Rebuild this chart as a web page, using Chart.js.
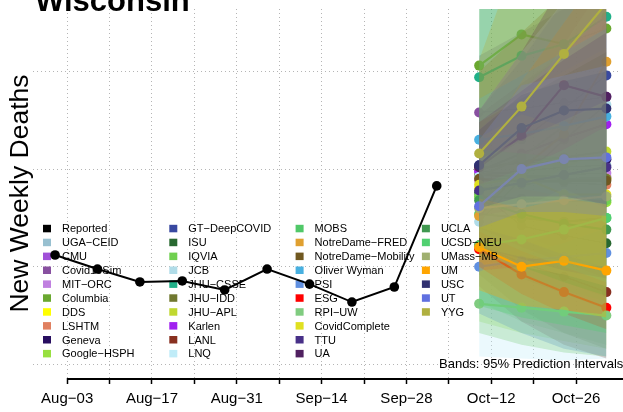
<!DOCTYPE html>
<html><head><meta charset="utf-8">
<script src="https://cdn.jsdelivr.net/npm/chart.js@4/dist/chart.umd.min.js"></script>
<style>html,body{margin:0;padding:0;background:#fff;overflow:hidden}canvas{display:block}</style>
</head><body>
<canvas id="c" width="623" height="412"></canvas>
<script>
// ---------------- data ----------------
const titleText = 'Wisconsin';
const yTitle = 'New Weekly Deaths';
const bandNote = 'Bands: 95% Prediction Intervals';

const reportedDates = ['2020-08-01','2020-08-08','2020-08-15','2020-08-22','2020-08-29','2020-09-05','2020-09-12','2020-09-19','2020-09-26','2020-10-03'];
const reportedDeaths = [56, 48.8, 42.2, 42.7, 38.1, 48.8, 41.1, 31.9, 39.6, 91.4];

const forecastDates = ['2020-10-10','2020-10-17','2020-10-24','2020-10-31'];

const tickDates = ['2020-08-03','2020-08-10','2020-08-17','2020-08-24','2020-08-31','2020-09-07','2020-09-14','2020-09-21','2020-09-28','2020-10-05','2020-10-12','2020-10-19','2020-10-26'];
const tickLabels = ['Aug-03','','Aug-17','','Aug-31','','Sep-14','','Sep-28','','Oct-12','','Oct-26'];
const yGridValues = [0, 50, 100, 150];

const modelNames = ['UGA-CEID','CMU','Covid19Sim','MIT-ORC','Columbia','DDS','LSHTM','Geneva','Google-HSPH',
  'GT-DeepCOVID','ISU','IQVIA','JCB','JHU-CSSE','JHU-IDD','JHU-APL','Karlen','LANL','LNQ',
  'MOBS','NotreDame-FRED','NotreDame-Mobility','Oliver Wyman','PSI','ESG','RPI-UW','CovidComplete','TTU','UA',
  'UCLA','UCSD-NEU','UMass-MB','UM','USC','UT','YYG'];
const modelColors = ['#98C0D0','#A050D8','#8850A0','#C080E0','#6AA830','#FFFF00','#E08060','#280E60','#98E040',
  '#3848A0','#286830','#70D050','#B0DCE8','#20B088','#707830','#C0D830','#A020F0','#883020','#C0ECF8',
  '#50C868','#E0A030','#705820','#48B0E0','#6090E0','#FF0000','#80CC80','#E0E020','#483088','#502060',
  '#409850','#50D070','#A0B070','#FFA500','#303070','#6070E0','#B0B040'];

const modelMedians = [
  [97,99,101,102],[99,97,95,96],[129,131,134,137],[94,96,97,98],[153,169,164,172],[90,92,94,95],[95,94,93,92],[101,103,104,105],[86,85,84,83],
  [102,115,131,148],[88,71,66,62],[86,85,84,84],[73,95,115,133],[147,158,164,178],[97,96,95,95],[100,104,106,109],[99,108,116,123],[61,52,45,37],[96,106,122,127],
  [77,75,73,75],[76,100,118,155],[95,94,94,94],[115,118,122,127],[50,53,55,57],[59,46,37,29],[31,29,27,25],[92,96,87,87],[89,93,97,101],[101,117,143,137],
  [84,77,72,69],[61,64,69,75],[80,82,84,86],[60,50,53,48],[102,121,130,131],[81,100,105,106],[108,132,159,185]
];
const modelLower = [
  [72,62,54,46],[76,64,54,46],[102,96,90,84],[80,74,68,62],[112,104,96,88],[62,52,42,34],[66,56,46,38],[76,66,58,50],[22,16,12,8],
  [76,78,82,86],[62,44,36,28],[32,22,16,10],[50,60,70,80],[116,110,104,100],[46,28,16,8],[78,72,66,60],[80,80,78,76],[40,22,10,3],[4,3,2,3],
  [56,46,38,32],[50,56,62,70],[70,60,52,44],[96,90,86,84],[26,16,8,4],[50,36,26,18],[16,10,6,4],[70,64,56,50],[60,54,48,44],[76,80,90,80],
  [60,50,42,35],[30,24,20,16],[55,50,46,40],[38,30,28,24],[80,86,86,82],[70,78,78,76],[60,55,52,50]
];
const modelUpper = [
  [126,142,158,172],[124,134,144,154],[158,170,182,194],[110,118,126,134],[198,225,250,275],[122,138,154,170],[128,144,160,176],[128,144,158,172],[112,120,128,136],
  [130,156,186,216],[116,102,98,96],[108,114,120,126],[100,130,164,196],[184,205,226,250],[150,170,190,210],[124,138,150,162],[120,140,160,180],[80,78,76,72],[130,160,186,210],
  [104,114,124,134],[110,145,175,205],[124,136,148,160],[136,148,160,172],[80,90,100,110],[68,58,50,42],[48,50,52,55],[116,128,122,126],[124,140,156,170],[130,160,196,200],
  [110,108,106,104],[92,100,110,122],[105,115,125,135],[85,80,85,82],[120,138,145,150],[115,143,148,153],[156,215,275,340]
];

// ---------------- helpers ----------------
const DAY0 = Date.UTC(2020, 7, 1);
const toDay = s => (Date.parse(s + 'T00:00:00Z') - DAY0) / 86400000;
const rgba = (hex, a) => { const n = parseInt(hex.slice(1), 16); return `rgba(${(n >> 16) & 255},${(n >> 8) & 255},${n & 255},${a})`; };
const minus = s => s.replace(/-/g, '\u2212');
const FONT = '"Liberation Sans", Arial, Helvetica, sans-serif';
const BAND_ALPHA = 0.32;

const fcX = forecastDates.map(toDay);
const datasets = [];
modelNames.forEach((name, i) => {
  const c = modelColors[i];
  datasets.push({ label: name + ' lower', data: fcX.map((x, k) => ({ x, y: modelLower[i][k] })),
    borderWidth: 0, pointRadius: 0, fill: false, order: 1000 - 3 * i });
  datasets.push({ label: name + ' band', data: fcX.map((x, k) => ({ x, y: modelUpper[i][k] })),
    borderWidth: 0, pointRadius: 0, fill: '-1', backgroundColor: rgba(c, BAND_ALPHA), order: 999 - 3 * i });
  datasets.push({ label: name, data: fcX.map((x, k) => ({ x, y: modelMedians[i][k] })),
    borderColor: c, backgroundColor: c, borderWidth: 2.2, pointRadius: 5, pointBorderWidth: 0,
    pointBackgroundColor: c, fill: false, clip: 0, order: 998 - 3 * i });
});
const reportedIndex = datasets.length;
datasets.push({ label: 'Reported', data: reportedDates.map((d, k) => ({ x: toDay(d), y: reportedDeaths[k] })),
  borderColor: '#000', backgroundColor: '#000', borderWidth: 2, pointRadius: 4.8, pointBorderWidth: 0,
  pointBackgroundColor: '#000', fill: false, order: 0 });

const legendNames = ['Reported'].concat(modelNames);
const legendColors = ['#000000'].concat(modelColors);

const decor = {
  id: 'decor',
  beforeDatasetDraw(chart, args) {
    if (args.index !== reportedIndex) return;
    const ctx = chart.ctx;
    ctx.save();
    ctx.font = '11px ' + FONT;
    ctx.textBaseline = 'alphabetic';
    legendNames.forEach((n, i) => {
      const col = Math.floor(i / 10), row = i % 10;
      const sx = 43 + col * 126.3, by = 232.3 + row * 13.9;
      ctx.fillStyle = legendColors[i];
      ctx.fillRect(sx, by - 7.5, 8, 7.5);
      ctx.fillStyle = '#000';
      ctx.fillText(minus(n), sx + 19, by);
    });
    ctx.restore();
  },
  afterDraw(chart) {
    const ctx = chart.ctx, xs = chart.scales.x, area = chart.chartArea;
    ctx.save();
    ctx.strokeStyle = '#000'; ctx.lineWidth = 2;
    ctx.beginPath();
    ctx.moveTo(xs.getPixelForValue(toDay(tickDates[0])), area.bottom + 1);
    ctx.lineTo(chart.width, area.bottom + 1);
    ctx.stroke();
    ctx.fillStyle = '#000';
    ctx.font = 'bold 31px ' + FONT;
    ctx.textAlign = 'left'; ctx.textBaseline = 'alphabetic';
    ctx.fillText(titleText, 35, 11);
    ctx.save();
    ctx.translate(28, 193.5);
    ctx.rotate(-Math.PI / 2);
    ctx.font = '26.5px ' + FONT;
    ctx.textAlign = 'center';
    ctx.fillText(yTitle, 0, 0);
    ctx.restore();
    ctx.font = '13px ' + FONT;
    ctx.textAlign = 'left';
    ctx.fillText(bandNote, 439, 367.5);
    ctx.restore();
  }
};

new Chart(document.getElementById('c'), {
  type: 'line',
  data: { datasets },
  options: {
    responsive: false, animation: false, devicePixelRatio: 1,
    layout: { padding: { top: 9, right: 0, left: 0, bottom: 0 } },
    elements: { line: { tension: 0 } },
    plugins: { legend: { display: false }, tooltip: { enabled: false }, filler: { propagate: false } },
    scales: {
      x: {
        type: 'linear', min: -3.64, max: 92.92,
        afterBuildTicks: s => { s.ticks = tickDates.map(d => ({ value: toDay(d) })); },
        afterFit: s => { s.height = 34; },
        ticks: { autoSkip: false, maxRotation: 0, minRotation: 0, padding: 6, color: '#000',
          font: { family: FONT, size: 15 }, callback: (v, i) => minus(tickLabels[i] || '') },
        grid: { color: '#b5b5b5', lineWidth: 1, drawTicks: true, tickLength: 6, tickColor: '#000', tickWidth: 1.5,
          tickBorderDash: [], borderDash: [1, 3] },
        border: { display: false, dash: [1, 3] }
      },
      y: {
        type: 'linear', min: -7, max: 182,
        afterBuildTicks: s => { s.ticks = yGridValues.map(v => ({ value: v })); },
        afterFit: s => { s.width = 33; },
        ticks: { display: false },
        grid: { color: '#b5b5b5', lineWidth: 1, drawTicks: false, borderDash: [1, 3] },
        border: { display: false, dash: [1, 3] }
      }
    }
  },
  plugins: [decor]
});
</script>
</body></html>
